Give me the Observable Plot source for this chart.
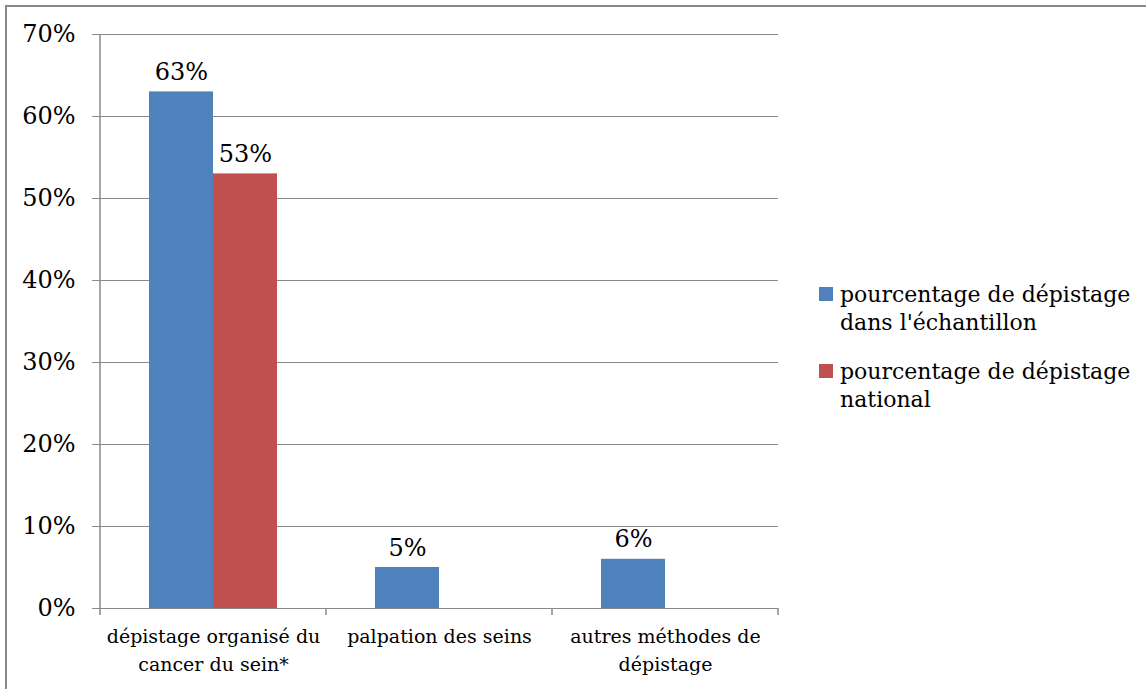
<!DOCTYPE html>
<html>
<head>
<meta charset="utf-8">
<script src="https://cdn.jsdelivr.net/npm/d3@7"></script>
<script src="https://cdn.jsdelivr.net/npm/@observablehq/plot@0.6"></script>
<style>
  html, body { margin: 0; padding: 0; background: #fff; }
  #wrap { position: relative; width: 1146px; height: 689px; overflow: hidden; font-family: "DejaVu Serif", serif; }
  #border { position: absolute; left: 5px; top: 5px; right: -2px; bottom: -2px; border-top: 2px solid #8a8a8a; border-left: 2px solid #8a8a8a; box-sizing: border-box; pointer-events: none; }
  #legend { position: absolute; left: 819px; top: 281px; font-size: 22px; line-height: 28px; color: #000; }
  .item { position: absolute; left: 0; width: 327px; }
  .sw { position: absolute; left: 0; top: 6px; width: 14px; height: 14px; }
  .lbl { position: absolute; left: 21px; top: 0; white-space: pre; }
</style>
</head>
<body>
<div id="wrap"><div id="chart"></div><div id="legend"></div><div id="border"></div></div>
<script>
const categories = ["dépistage organisé du\ncancer du sein*", "palpation des seins", "autres méthodes de\ndépistage"];
const seriesNames = ["pourcentage de dépistage dans l'échantillon", "pourcentage de dépistage national"];
const seriesLegend = ["pourcentage de dépistage\ndans l'échantillon", "pourcentage de dépistage\nnational"];
const seriesColors = ["#4F81BD", "#C0504D"];
const sampleValues = [0.63, 0.05, 0.06];
const nationalValues = [0.53, null, null];
const yTicks = [0, 0.1, 0.2, 0.3, 0.4, 0.5, 0.6, 0.7];

const data = [];
categories.forEach((c, i) => {
  data.push({category: c, series: seriesNames[0], value: sampleValues[i]});
  data.push({category: c, series: seriesNames[1], value: nationalValues[i]});
});
const present = data.filter(d => d.value != null);
const pct = d => Math.round(d * 100) + "%";

const chart = Plot.plot({
  width: 1146,
  height: 689,
  marginLeft: 100,
  marginRight: 368,
  marginTop: 34,
  marginBottom: 81,
  style: {fontFamily: "DejaVu Serif, serif", background: "transparent", color: "#000"},
  fx: {domain: categories, padding: 0},
  x: {domain: seriesNames, paddingInner: 0, paddingOuter: 0.747, axis: null},
  y: {domain: [0, 0.7]},
  color: {domain: seriesNames, range: seriesColors},
  marks: [
    Plot.gridY(yTicks, {stroke: "#8a8a8a", strokeOpacity: 1}),
    Plot.axisY(yTicks, {tickFormat: pct, tickSize: 8, tickPadding: 17, fontSize: 24, stroke: "#8a8a8a", label: null}),
    Plot.axisFx({anchor: "bottom", tickSize: 0, tickPadding: 15, fontSize: 19, lineHeight: 1.45, label: null}),
    Plot.barY(present, {fx: "category", x: "series", y: "value", fill: "series"}),
    Plot.ruleY([0], {stroke: "#8a8a8a"}),
    Plot.text(present, {fx: "category", x: "series", y: "value", text: d => pct(d.value), lineAnchor: "bottom", dy: -12, fontSize: 24})
  ]
});
document.getElementById("chart").appendChild(chart);

// y-axis line and category boundary ticks, from the library's scales
const svg = d3.select(chart);
const fx = chart.scale("fx");
const y = chart.scale("y");
const y0 = y.apply(0), yTop = y.apply(0.7);
const bounds = categories.map(c => fx.apply(c));
bounds.push(fx.apply(categories[categories.length - 1]) + fx.bandwidth);
const g = svg.append("g").attr("stroke", "#8a8a8a").attr("stroke-width", 1.5);
g.append("line").attr("x1", bounds[0]).attr("x2", bounds[0]).attr("y1", yTop).attr("y2", y0 + 7);
bounds.slice(1).forEach(b => g.append("line").attr("x1", b).attr("x2", b).attr("y1", y0).attr("y2", y0 + 7));

// legend
const legend = document.getElementById("legend");
seriesLegend.forEach((s, i) => {
  const item = document.createElement("div");
  item.className = "item";
  item.style.top = (i * 77) + "px";
  item.innerHTML = `<div class="sw" style="background:${seriesColors[i]}"></div><div class="lbl"></div>`;
  item.querySelector(".lbl").textContent = s;
  legend.appendChild(item);
});
</script>
</body>
</html>
